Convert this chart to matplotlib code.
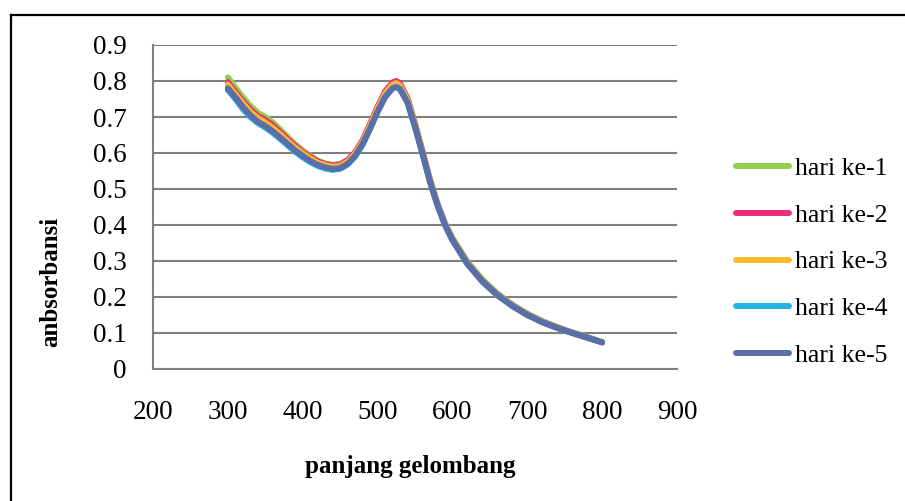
import matplotlib
matplotlib.use("Agg")
import matplotlib.pyplot as plt
from matplotlib.lines import Line2D

plt.rcParams['font.family'] = ['Liberation Serif', 'DejaVu Serif']

# panjang gelombang (nm)
wl = [300, 310, 320, 330, 340, 350, 360, 370, 380, 390, 400, 410, 420, 430,
      440, 450, 460, 470, 480, 490, 500, 510, 520, 525, 530, 540, 550, 560,
      570, 580, 590, 600, 620, 640, 660, 680, 700, 720, 740, 760, 780, 800]

hari1 = [0.810, 0.782, 0.755, 0.731, 0.712, 0.700, 0.685, 0.665, 0.644, 0.624,
         0.607, 0.592, 0.579, 0.571, 0.567, 0.569, 0.580, 0.601, 0.634, 0.678,
         0.726, 0.768, 0.793, 0.797, 0.791, 0.752, 0.682, 0.606, 0.527, 0.461,
         0.406, 0.364, 0.298, 0.249, 0.210, 0.179, 0.154, 0.133, 0.117, 0.102,
         0.089, 0.075]
hari2 = [0.797, 0.770, 0.744, 0.721, 0.703, 0.692, 0.677, 0.658, 0.638, 0.620,
         0.603, 0.589, 0.577, 0.569, 0.566, 0.568, 0.580, 0.602, 0.636, 0.681,
         0.729, 0.771, 0.796, 0.800, 0.793, 0.752, 0.681, 0.604, 0.525, 0.458,
         0.403, 0.361, 0.295, 0.246, 0.207, 0.177, 0.152, 0.132, 0.115, 0.101,
         0.088, 0.074]
hari3 = [0.790, 0.764, 0.738, 0.715, 0.697, 0.685, 0.670, 0.652, 0.633, 0.615,
         0.599, 0.585, 0.573, 0.566, 0.562, 0.564, 0.576, 0.598, 0.632, 0.676,
         0.724, 0.765, 0.790, 0.794, 0.787, 0.748, 0.678, 0.602, 0.523, 0.457,
         0.402, 0.360, 0.294, 0.245, 0.206, 0.176, 0.151, 0.131, 0.115, 0.100,
         0.087, 0.074]
hari4 = [0.775, 0.750, 0.722, 0.700, 0.683, 0.671, 0.656, 0.639, 0.621, 0.603,
         0.588, 0.575, 0.564, 0.557, 0.553, 0.556, 0.568, 0.590, 0.623, 0.667,
         0.714, 0.755, 0.780, 0.784, 0.778, 0.741, 0.673, 0.598, 0.520, 0.455,
         0.400, 0.358, 0.292, 0.243, 0.205, 0.175, 0.150, 0.130, 0.114, 0.100,
         0.087, 0.074]
hari5 = [0.780, 0.755, 0.728, 0.705, 0.687, 0.675, 0.660, 0.643, 0.625, 0.607,
         0.592, 0.578, 0.567, 0.560, 0.556, 0.558, 0.570, 0.592, 0.625, 0.668,
         0.715, 0.755, 0.780, 0.783, 0.777, 0.740, 0.672, 0.598, 0.520, 0.455,
         0.400, 0.358, 0.292, 0.243, 0.205, 0.175, 0.150, 0.130, 0.114, 0.100,
         0.087, 0.074]

labels = ['hari ke-1', 'hari ke-2', 'hari ke-3', 'hari ke-4', 'hari ke-5']
warna = ['#8ED14B', '#EC2D7C', '#FBBA2A', '#22B5E2', '#5B6EA8']
data = [hari1, hari2, hari3, hari4, hari5]

fig = plt.figure(figsize=(9.05, 5.01), dpi=100)
ax = fig.add_axes([153/905, 1 - 369/501, (677 - 153)/905, (369 - 45)/501])

for y, c, lab in zip(data, warna, labels):
    ax.plot(wl, y, color=c, lw=4.3, label=lab, solid_capstyle='round',
            solid_joinstyle='round')

ax.set_xlim(200, 900)
ax.set_ylim(0, 0.9)
ax.set_xticks(range(200, 901, 100))
ax.set_yticks([i / 10 for i in range(10)])
ax.set_yticklabels(['0', '0.1', '0.2', '0.3', '0.4', '0.5', '0.6', '0.7', '0.8', '0.9'])
ax.tick_params(length=0, labelsize=19.5)
ax.tick_params(axis='y', pad=19)
ax.tick_params(axis='x', pad=22)
ax.grid(axis='y', color='#7f7f7f', lw=1.5)
ax.set_axisbelow(True)
for s in ['top', 'right']:
    ax.spines[s].set_visible(False)
for s in ['left', 'bottom']:
    ax.spines[s].set_color('#7f7f7f')
    ax.spines[s].set_linewidth(1.5)

ax.set_ylabel('anbsorbansi', fontsize=18, fontweight='bold')
ax.yaxis.set_label_coords((62 - 153)/524, (369 - 282)/324)
ax.set_xlabel('panjang gelombang', fontsize=18, fontweight='bold')
ax.xaxis.set_label_coords((410 - 153)/524, -(455 - 369)/324)

fig.legend(loc='center left', bbox_to_anchor=(736/905, 1 - 262/501),
           frameon=False, fontsize=18.5, handlelength=2.05, handletextpad=0.25,
           labelspacing=0.92, borderpad=0, borderaxespad=0)

# bingkai luar
fig.add_artist(Line2D([11/905, 11/905], [0, 1 - 15/501], color='black', lw=1.6,
                      transform=fig.transFigure))
fig.add_artist(Line2D([11/905, 1], [1 - 15/501, 1 - 15/501], color='black', lw=1.6,
                      transform=fig.transFigure))

fig.savefig('out.png', dpi=100)
